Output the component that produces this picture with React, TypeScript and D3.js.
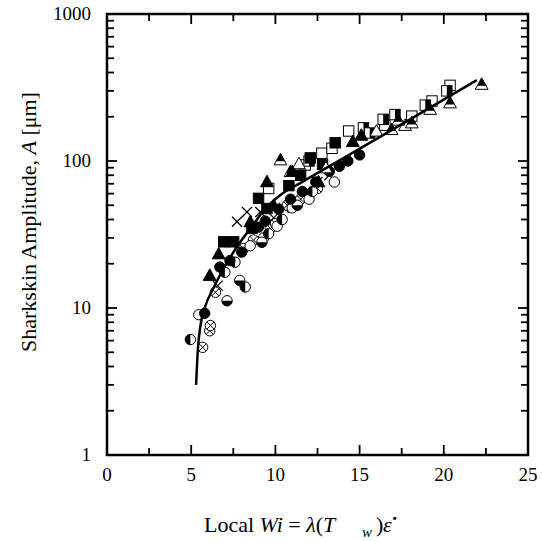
import React from "react";
import * as d3 from "d3";

// fit curve
const fitWi = [5.29, 5.4, 5.55, 5.8, 6.3, 6.8, 7.3, 8.0, 8.5, 9.3, 10.3, 11.5, 14.25, 18.2, 21.96];
const fitA = [3.0, 5.3, 7.6, 10, 13.5, 17.5, 22, 29, 34.5, 46, 58.8, 71, 108, 198, 355];

const filledCircle = [[5.8, 9.2], [6.7, 19], [7.3, 21], [8.0, 24], [9.0, 35.5], [9.4, 39], [10.2, 47], [10.9, 55], [11.6, 62], [12.4, 72], [13.2, 85], [14.3, 100], [15.0, 110], [13.8, 92]];
const openCircle = [[5.45, 9.0], [8.5, 26.5], [9.3, 30], [10.1, 36], [11.0, 48], [12.0, 55], [13.5, 72]];
const leftHalfCircle = [[4.95, 6.1], [7.6, 20.5], [7.0, 17.5], [9.6, 32], [10.4, 40], [12.2, 62], [8.21, 13.9]];
const bottomHalfCircle = [[7.13, 11.2], [7.88, 15.4], [9.2, 28], [11.3, 50]];
const crossCircle = [[5.68, 5.4], [6.1, 7.0], [6.14, 7.6], [6.44, 12.8], [8.1, 25.4], [8.7, 29], [9.7, 34.8], [10.0, 37.5], [10.7, 50], [11.5, 55], [12.5, 65]];
const cross = [[6.57, 14.2], [7.3, 28], [7.72, 38.6], [8.31, 45], [9.1, 45], [11.1, 52.7], [12.5, 72], [13.2, 80], [9.9, 41], [10.5, 48]];
const filledSquare = [[6.93, 28.2], [7.52, 28.2], [8.61, 34.8], [9.0, 55.7], [9.5, 47.5], [10.8, 68], [12.07, 105], [13.55, 133], [11.5, 80], [12.8, 95]];
const openSquare = [[9.6, 65], [11.77, 94], [12.76, 113], [13.36, 122], [14.35, 160], [18.1, 202], [19.3, 256], [20.37, 327], [16.5, 175]];
const halfSquare = [[15.23, 168], [16.4, 192], [17.1, 207], [20.18, 300], [18.9, 240], [12.0, 100], [15.6, 155]];
const filledTriangle = [[6.1, 16.7], [6.63, 23.4], [8.51, 38.6], [9.5, 72.4], [9.9, 50], [12.56, 72.4], [14.6, 136], [15.1, 150], [11.0, 85]];
const halfTriangle = [[10.3, 102], [10.9, 85], [16.9, 164], [18.1, 182], [19.19, 225], [20.37, 249], [22.25, 333], [17.3, 190]];
const openTriangle = [[11.4, 96], [16.0, 160], [13.0, 90], [17.7, 175]];

const xTicks = [0, 5, 10, 15, 20, 25];
const yTicks = [1, 10, 100, 1000];

const W = 542, H = 541;
const m = { left: 107, right: 528, top: 14, bottom: 455 };
const FONT = "'Liberation Serif', 'Times New Roman', serif";

function Marker({ kind, x, y }: { kind: string; x: number; y: number }) {
  const r = 5.2;
  const s = 5.2;
  const t = 6.4;
  const sw = 1;
  const triPts = `${x},${y - t} ${x + t},${y + t * 0.8} ${x - t},${y + t * 0.8}`;
  switch (kind) {
    case "fc":
      return <circle cx={x} cy={y} r={r} fill="#000" stroke="#000" strokeWidth={sw} />;
    case "oc":
      return <circle cx={x} cy={y} r={r} fill="#fff" stroke="#000" strokeWidth={sw} />;
    case "lc":
      return (
        <g>
          <circle cx={x} cy={y} r={r} fill="#fff" stroke="#000" strokeWidth={sw} />
          <path d={`M${x},${y - r} A${r},${r} 0 0 0 ${x},${y + r} Z`} fill="#000" />
        </g>
      );
    case "bc":
      return (
        <g>
          <circle cx={x} cy={y} r={r} fill="#fff" stroke="#000" strokeWidth={sw} />
          <path d={`M${x - r},${y} A${r},${r} 0 0 0 ${x + r},${y} Z`} fill="#000" />
        </g>
      );
    case "xc": {
      const k = r * 0.7;
      return (
        <g stroke="#000" strokeWidth={sw}>
          <circle cx={x} cy={y} r={r} fill="#fff" />
          <line x1={x - k} y1={y - k} x2={x + k} y2={y + k} />
          <line x1={x - k} y1={y + k} x2={x + k} y2={y - k} />
        </g>
      );
    }
    case "x":
      return (
        <g stroke="#000" strokeWidth={1.2}>
          <line x1={x - 5} y1={y - 5} x2={x + 5} y2={y + 5} />
          <line x1={x - 5} y1={y + 5} x2={x + 5} y2={y - 5} />
        </g>
      );
    case "fs":
      return <rect x={x - s} y={y - s} width={2 * s} height={2 * s} fill="#000" stroke="#000" strokeWidth={sw} />;
    case "os":
      return <rect x={x - s} y={y - s} width={2 * s} height={2 * s} fill="#fff" stroke="#000" strokeWidth={sw} />;
    case "hs":
      return (
        <g>
          <rect x={x - s} y={y - s} width={2 * s} height={2 * s} fill="#fff" stroke="#000" strokeWidth={sw} />
          <rect x={x} y={y - s} width={s} height={2 * s} fill="#000" />
        </g>
      );
    case "ft":
      return <polygon points={triPts} fill="#000" stroke="#000" strokeWidth={sw} />;
    case "ot":
      return <polygon points={triPts} fill="#fff" stroke="#000" strokeWidth={sw} />;
    case "ht": {
      const yb = y + t * 0.8 - 3.5;
      const f = (yb - (y - t)) / (1.8 * t);
      return (
        <g>
          <polygon points={triPts} fill="#fff" stroke="#000" strokeWidth={sw} />
          <polygon points={`${x},${y - t} ${x + t * f},${yb} ${x - t * f},${yb}`} fill="#000" />
        </g>
      );
    }
  }
  return null;
}

export default function App() {
  const x = d3.scaleLinear().domain([0, 25]).range([m.left, m.right]);
  const y = d3.scaleLog().domain([1, 1000]).range([m.bottom, m.top]);

  const xMinor = d3.range(0, 25.01, 2.5).filter((v) => v % 5 !== 0);
  const yMinor: number[] = [];
  [1, 10, 100].forEach((d) => d3.range(2, 10).forEach((k) => yMinor.push(d * k)));

  const fitPts = fitWi.map((w, i) => [x(w), y(fitA[i])] as [number, number]);
  const fitPath = d3.line().curve(d3.curveMonotoneX)(fitPts) || "";

  const series: [string, number[][]][] = [
    ["x", cross],
    ["xc", crossCircle],
    ["oc", openCircle],
    ["lc", leftHalfCircle],
    ["bc", bottomHalfCircle],
    ["fc", filledCircle],
    ["os", openSquare],
    ["hs", halfSquare],
    ["fs", filledSquare],
    ["ot", openTriangle],
    ["ht", halfTriangle],
    ["ft", filledTriangle],
  ];

  return (
    <svg width={W} height={H} style={{ position: "absolute", left: 0, top: 0, background: "#fff" }} fontFamily={FONT}>
      <rect width={W} height={H} fill="#fff" />
      {series.map(([k, pts]) =>
        pts.map((p, i) => <Marker key={k + i} kind={k} x={x(p[0])} y={y(p[1])} />)
      )}
      <path d={fitPath} fill="none" stroke="#000" strokeWidth={2.5} />

      {/* frame and ticks */}
      <rect x={m.left} y={m.top} width={m.right - m.left} height={m.bottom - m.top} fill="none" stroke="#000" strokeWidth={2.5} />
      <g stroke="#000" strokeWidth={1.8}>
        {xTicks.map((t) => (
          <g key={"xt" + t}>
            <line x1={x(t)} x2={x(t)} y1={m.bottom} y2={m.bottom - 10} />
            <line x1={x(t)} x2={x(t)} y1={m.top} y2={m.top + 10} />
          </g>
        ))}
        {xMinor.map((t) => (
          <g key={"xm" + t}>
            <line x1={x(t)} x2={x(t)} y1={m.bottom} y2={m.bottom - 7} />
            <line x1={x(t)} x2={x(t)} y1={m.top} y2={m.top + 7} />
          </g>
        ))}
        {yTicks.map((t) => (
          <g key={"yt" + t}>
            <line x1={m.left} x2={m.left + 10} y1={y(t)} y2={y(t)} />
            <line x1={m.right} x2={m.right - 10} y1={y(t)} y2={y(t)} />
          </g>
        ))}
        {yMinor.map((t) => (
          <g key={"ym" + t}>
            <line x1={m.left} x2={m.left + 7} y1={y(t)} y2={y(t)} />
            <line x1={m.right} x2={m.right - 7} y1={y(t)} y2={y(t)} />
          </g>
        ))}
      </g>

      {xTicks.map((t) => (
        <text key={"xl" + t} x={x(t)} y={481} fontSize={19} textAnchor="middle">{t}</text>
      ))}
      {yTicks.map((t) => (
        <text key={"yl" + t} x={91} y={y(t) + 6} fontSize={19} textAnchor="end">{t}</text>
      ))}

      <text x={204} y={532} fontSize={22}>
        Local <tspan fontStyle="italic">Wi</tspan> = <tspan fontStyle="italic">λ</tspan>(<tspan fontStyle="italic">T</tspan>
        <tspan x={362} fontSize={15} dy={5} fontStyle="italic">w</tspan>
        <tspan x={376} dy={-5}>)</tspan><tspan x={383} fontStyle="italic">ε</tspan>
        <tspan x={391} fontWeight="bold">˙</tspan>
      </text>
      <text transform={`translate(36,222) rotate(-90)`} fontSize={22} textAnchor="middle">
        Sharkskin Amplitude, <tspan fontStyle="italic">A</tspan> [μm]
      </text>
    </svg>
  );
}
